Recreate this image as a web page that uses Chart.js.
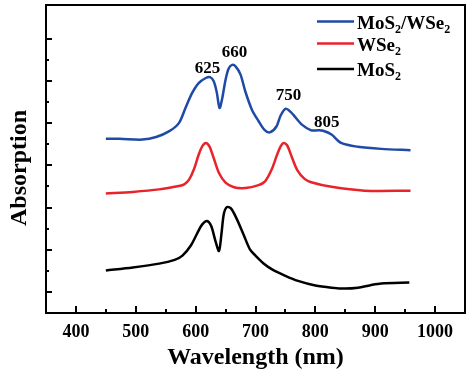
<!DOCTYPE html>
<html><head><meta charset="utf-8">
<script src="https://cdn.jsdelivr.net/npm/chart.js@4.4.1/dist/chart.umd.min.js"></script>
<style>html,body{margin:0;padding:0;background:#fff}#wrap{width:474px;height:372px}</style>
</head><body><div id="wrap"><canvas id="c" width="474" height="372"></canvas></div>
<script>
// ---- data ----
const seriesNames = ["MoS2/WSe2", "WSe2", "MoS2"];

const heteroWavelength = [450,473,511,534,556,572,583,594,605,617,624,630,635,640,644,650,655,661,667,675,683,694,705,715,724,735,742,750,756,763,777,793,805,813,827,843,871,910,959];
const heteroAbs        = [3.63,3.63,3.61,3.67,3.81,4.00,4.36,4.71,4.95,5.07,5.09,5.00,4.75,4.36,4.56,5.03,5.29,5.38,5.34,5.15,4.75,4.32,4.05,3.84,3.78,3.92,4.18,4.34,4.30,4.20,3.97,3.83,3.83,3.82,3.73,3.53,3.44,3.39,3.36];

const wse2Wavelength = [450,495,539,572,581,589,597,605,611,617,623,630,639,650,664,683,705,716,727,736,742,747,753,760,770,782,793,827,882,959];
const wse2Abs        = [2.33,2.37,2.43,2.51,2.55,2.66,2.90,3.25,3.45,3.53,3.45,3.18,2.82,2.59,2.48,2.46,2.53,2.62,2.90,3.25,3.45,3.53,3.47,3.22,2.88,2.68,2.60,2.49,2.40,2.40];

const mos2Wavelength = [450,495,539,565,578,592,603,611,619,626,633,639,643,647,652,659,669,680,691,700,713,727,750,771,800,827,850,871,892,910,957];
const mos2Abs        = [0.51,0.58,0.67,0.76,0.86,1.10,1.40,1.60,1.68,1.56,1.21,0.97,1.36,1.84,2.01,1.98,1.72,1.36,1.00,0.86,0.68,0.54,0.38,0.26,0.15,0.10,0.08,0.10,0.16,0.20,0.22];

const xTickLabels = [400,500,600,700,800,900,1000];
const peakLabels = ["625","660","750","805"];
const peakLabelX = [620,665,755,819];
const peakLabelY = [5.30,5.68,4.65,4.02];
const yTitle = "Absorption";

// ---- styles ----
const SERIF = '"Liberation Serif","Times New Roman",serif';
const colors = ["#1f4aa5", "#e8232a", "#000000"];

const toPts = (xs, ys) => xs.map((x, i) => ({x, y: ys[i]}));

const framePlugin = {
  id: 'frame',
  afterDraw(chart) {
    const ctx = chart.ctx, a = chart.chartArea;
    const xs = chart.scales.x, ys = chart.scales.y;
    ctx.save();
    ctx.strokeStyle = '#000';
    ctx.lineWidth = 2;
    ctx.strokeRect(a.left, a.top, a.right - a.left, a.bottom - a.top);
    xs.ticks.forEach(t => {
      const v = t.value;
      if (v <= xs.min || v >= xs.max) return;
      const px = Math.round(xs.getPixelForValue(v));
      const len = (v % 100 === 0) ? 7 : 4;
      ctx.beginPath(); ctx.moveTo(px, a.bottom); ctx.lineTo(px, a.bottom - len); ctx.stroke();
    });
    ys.ticks.forEach(t => {
      const v = t.value;
      if (v <= ys.min + 1e-6 || v >= ys.max - 1e-6) return;
      if (Math.abs(v * 2 - Math.round(v * 2)) > 1e-6) return;
      const py = Math.round(ys.getPixelForValue(v));
      const len = (Math.abs(v - Math.round(v)) < 1e-6) ? 6 : 3;
      ctx.beginPath(); ctx.moveTo(a.left, py); ctx.lineTo(a.left + len, py); ctx.stroke();
    });
    // y axis title
    ctx.fillStyle = '#000';
    ctx.save();
    ctx.translate(a.left - 26, (a.top + a.bottom) / 2 + 9);
    ctx.rotate(-Math.PI / 2);
    ctx.font = 'bold 24px ' + SERIF;
    ctx.textAlign = 'center';
    ctx.textBaseline = 'middle';
    ctx.fillText(yTitle, 0, 0);
    ctx.restore();
    // peak labels
    ctx.font = 'bold 17px ' + SERIF;
    ctx.textAlign = 'center';
    ctx.textBaseline = 'middle';
    peakLabels.forEach((s, i) => {
      ctx.fillText(s, xs.getPixelForValue(peakLabelX[i]), ys.getPixelForValue(peakLabelY[i]));
    });
    // legend
    const legendRows = [
      {parts: [["MoS",0],["2",1],["/WSe",0],["2",1]], color: colors[0], ly: 21.5, by: 29},
      {parts: [["WSe",0],["2",1]], color: colors[1], ly: 43.5, by: 51},
      {parts: [["MoS",0],["2",1]], color: colors[2], ly: 69, by: 76}
    ];
    ctx.textAlign = 'left';
    ctx.textBaseline = 'alphabetic';
    legendRows.forEach(r => {
      ctx.strokeStyle = r.color; ctx.lineWidth = 2.5;
      ctx.beginPath(); ctx.moveTo(a.right - 148, r.ly); ctx.lineTo(a.right - 111, r.ly); ctx.stroke();
      let x = a.right - 108;
      r.parts.forEach(([txt, sub]) => {
        ctx.font = sub ? 'bold 12px ' + SERIF : 'bold 19px ' + SERIF;
        ctx.fillText(txt, x, r.by + (sub ? 4 : 0));
        x += ctx.measureText(txt).width;
      });
    });
    ctx.restore();
  }
};

const ds = (i, xs, ys) => ({
  label: seriesNames[i],
  data: toPts(xs, ys),
  borderColor: colors[i],
  backgroundColor: colors[i],
  borderWidth: 2.5,
  pointRadius: 0,
  tension: 0.3,
  fill: false
});

new Chart(document.getElementById('c'), {
  type: 'line',
  data: {
    datasets: [
      ds(0, heteroWavelength, heteroAbs),
      ds(1, wse2Wavelength, wse2Abs),
      ds(2, mos2Wavelength, mos2Abs)
    ]
  },
  options: {
    responsive: false,
    animation: false,
    devicePixelRatio: 1,
    layout: {padding: {top: 5, right: 6, left: 0, bottom: 0}},
    plugins: {legend: {display: false}, tooltip: {enabled: false}},
    scales: {
      x: {
        type: 'linear', min: 350, max: 1050,
        grid: {display: false, drawTicks: false},
        border: {display: false},
        ticks: {
          stepSize: 50, autoSkip: false, maxRotation: 0, padding: 9,
          color: '#000', font: {family: SERIF, size: 18, weight: 'bold'},
          callback: v => xTickLabels.includes(v) ? String(v) : ''
        },
        title: {display: true, text: 'Wavelength (nm)', color: '#000',
          font: {family: SERIF, size: 24, weight: 'bold'}, padding: {top: 0, bottom: 0}},
        afterFit: s => { s.height = 59; }
      },
      y: {
        type: 'linear', min: -0.5, max: 6.8,
        grid: {display: false, drawTicks: false},
        border: {display: false},
        ticks: {display: false, stepSize: 0.5},
        title: {display: false},
        afterFit: s => { s.width = 46; }
      }
    }
  },
  plugins: [framePlugin]
});
</script></body></html>
